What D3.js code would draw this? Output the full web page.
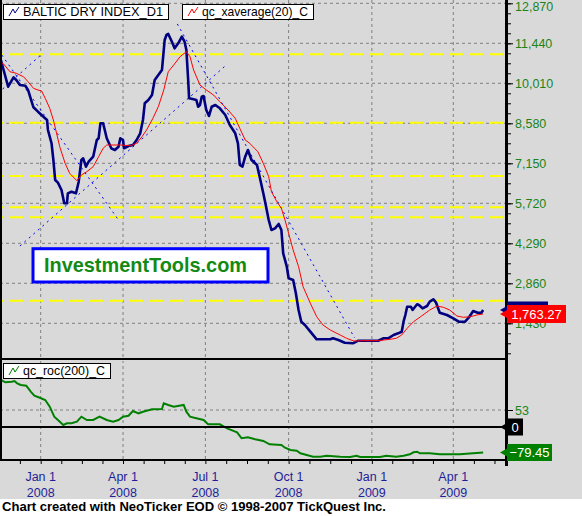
<!DOCTYPE html>
<html><head><meta charset="utf-8">
<script src="https://cdn.jsdelivr.net/npm/d3@7"></script>
<style>
body{margin:0;background:#fff}
svg{display:block;font-family:"Liberation Sans",Arial,sans-serif}
</style>
</head><body>
<svg id="c" width="582" height="516"></svg>
<script>
// ---------------- DATA ----------------
const bdiDates = ["2007-11-18","2007-11-21","2007-11-26","2007-12-02","2007-12-05","2007-12-09","2007-12-15","2007-12-18","2007-12-22","2007-12-24","2007-12-29",
"2008-01-04","2008-01-08","2008-01-09","2008-01-13","2008-01-15","2008-01-17","2008-01-20","2008-01-24","2008-01-27","2008-01-30","2008-01-31",
"2008-02-04","2008-02-09","2008-02-12","2008-02-15","2008-02-17","2008-02-20","2008-02-23","2008-02-28",
"2008-03-03","2008-03-05","2008-03-07","2008-03-10","2008-03-14","2008-03-19","2008-03-23","2008-03-27","2008-03-29",
"2008-04-01","2008-04-02","2008-04-07","2008-04-12","2008-04-16","2008-04-20","2008-04-23","2008-04-25","2008-04-29",
"2008-05-03","2008-05-06","2008-05-10","2008-05-14","2008-05-16","2008-05-17","2008-05-19","2008-05-21","2008-05-25","2008-05-28",
"2008-06-01","2008-06-05","2008-06-08","2008-06-10","2008-06-12","2008-06-13","2008-06-18","2008-06-21","2008-06-23","2008-06-25","2008-06-27","2008-06-29",
"2008-07-02","2008-07-05","2008-07-08","2008-07-12","2008-07-17","2008-07-23","2008-07-28",
"2008-08-03","2008-08-06","2008-08-08","2008-08-11","2008-08-14","2008-08-17","2008-08-21","2008-08-27","2008-08-30",
"2008-09-03","2008-09-05","2008-09-09","2008-09-12","2008-09-16","2008-09-20","2008-09-23","2008-09-25","2008-09-29",
"2008-10-01","2008-10-06","2008-10-09","2008-10-12","2008-10-15","2008-10-19","2008-10-25",
"2008-11-01","2008-11-16","2008-11-19","2008-11-25","2008-12-02","2008-12-11","2008-12-17","2008-12-23",
"2009-01-08","2009-01-14","2009-01-19","2009-01-25","2009-01-30",
"2009-02-03","2009-02-05","2009-02-07","2009-02-09","2009-02-13","2009-02-15","2009-02-20","2009-02-22","2009-02-26",
"2009-03-03","2009-03-06","2009-03-10","2009-03-13","2009-03-17","2009-03-25",
"2009-04-01","2009-04-07","2009-04-14","2009-04-18","2009-04-23","2009-04-28","2009-05-02","2009-05-04"];
const bdiValues = [10843,10485,9888,10224,10128,9949,9924,9771,9352,9152,8995,
8816,8698,8341,7865,7268,6553,6457,6196,5720,5720,6077,
6135,6077,6492,7268,7329,7029,7207,7386,
7983,8044,8580,8580,8044,7686,7626,7744,8044,
7983,7686,7769,7804,7983,8223,8698,9295,9413,
9592,10128,10307,10485,11200,11558,11737,11773,11497,11261,
11440,11676,11497,11200,10128,9474,9438,9413,9173,9234,9531,9556,
9056,8841,9173,9234,9116,8877,8519,
8223,7865,7089,7029,7386,7626,7268,7089,6671,
6077,5777,5123,4766,4826,4980,4766,3932,3454,
3039,2978,2503,1906,1487,1369,1130,
858,858,894,833,737,715,808,808,
808,894,894,1012,1072,
1130,1487,1727,2024,2024,1906,2109,2084,1966,
2049,2203,2288,2167,1809,1727,
1609,1487,1487,1630,1870,1809,1809,1906];

const emaDates = ["2007-11-18","2007-11-21","2007-11-28","2007-12-05","2007-12-13","2007-12-18","2007-12-24","2007-12-29",
"2008-01-02","2008-01-06","2008-01-11","2008-01-15","2008-01-19","2008-01-22","2008-01-28",
"2008-02-02","2008-02-10","2008-02-15","2008-02-21","2008-02-28",
"2008-03-05","2008-03-10","2008-03-14","2008-03-29","2008-04-09","2008-04-16","2008-04-22","2008-04-27",
"2008-05-04","2008-05-10","2008-05-16","2008-05-21","2008-05-27","2008-06-03","2008-06-10","2008-06-14","2008-06-18","2008-06-25",
"2008-07-02","2008-07-10","2008-07-17","2008-07-26","2008-08-03","2008-08-08","2008-08-14","2008-08-19","2008-08-28",
"2008-09-03","2008-09-09","2008-09-12","2008-09-18","2008-09-23","2008-09-27",
"2008-10-01","2008-10-06","2008-10-12","2008-10-17","2008-10-25","2008-11-01","2008-11-08","2008-11-16","2008-11-27",
"2008-12-04","2008-12-12","2008-12-23","2009-01-08","2009-01-21","2009-01-28",
"2009-02-03","2009-02-09","2009-02-16","2009-02-25","2009-03-06","2009-03-14","2009-03-21","2009-03-28",
"2009-04-05","2009-04-12","2009-04-20","2009-04-27","2009-05-04"];
const emaValues = [10725,10700,10425,10368,10246,10067,9831,9771,
9735,9474,9116,8698,8162,7744,7150,
6792,6528,6732,6850,7029,
7386,7686,7804,7804,7779,7865,8101,8341,
8759,9174,9771,10425,10664,10961,11140,10961,10485,9949,
9771,9592,9352,9056,8759,8401,7983,7865,7565,
7150,6671,6135,5777,5541,5123,
4648,4050,3454,2738,2145,1666,1369,1191,1012,
894,797,808,808,858,894,
1012,1251,1487,1691,1906,2049,2002,1906,
1691,1645,1666,1727,1763.27];

const rocDates = ["2007-11-18","2007-11-23","2007-11-30","2007-12-03","2007-12-06","2007-12-10","2007-12-16","2007-12-21","2007-12-25","2007-12-31",
"2008-01-06","2008-01-11","2008-01-16","2008-01-20","2008-01-26","2008-01-30",
"2008-02-04","2008-02-10","2008-02-15","2008-02-21","2008-02-28",
"2008-03-06","2008-03-14","2008-03-21","2008-03-27",
"2008-04-01","2008-04-07","2008-04-12","2008-04-18","2008-04-23",
"2008-05-03","2008-05-14","2008-05-16","2008-05-21","2008-05-27",
"2008-06-07","2008-06-10","2008-06-14","2008-06-21","2008-06-29",
"2008-07-04","2008-07-17","2008-07-25","2008-08-05","2008-08-10","2008-08-17","2008-08-25",
"2008-09-03","2008-09-10","2008-09-23","2008-09-27",
"2008-10-03","2008-10-10","2008-10-14","2008-10-21","2008-10-28",
"2008-11-05","2008-11-12","2008-11-27","2008-12-08","2008-12-15","2008-12-19",
"2009-01-10","2009-01-17","2009-01-28","2009-02-05","2009-02-12","2009-02-16","2009-02-20","2009-02-23",
"2009-03-06","2009-03-17","2009-04-08","2009-04-23","2009-05-04"];
const rocValues = [146.5,139.4,141.2,143.4,136.2,130.9,128.8,110.0,97.6,91.3,
84.2,63.3,32.1,21.8,6.2,11.5,
11.5,16.5,32.1,21.8,21.8,
32.1,21.8,16.5,21.8,
32.1,35.2,49.9,42.7,47.7,
55.2,56.1,73.9,68.6,63.3,
68.6,47.7,32.1,27.1,21.8,
8.4,8.4,-4.1,-16.5,-35.2,-32.1,-38.3,
-43.6,-53.9,-56.1,-64.5,
-71.7,-73.9,-82.0,-87.3,-92.6,
-92.6,-89.5,-92.6,-93.5,-89.5,-93.5,
-93.5,-89.5,-92.6,-89.5,-85.1,-78.9,-77.0,-82.0,
-82.0,-85.1,-85.1,-82.0,-79.45];

// hand-drawn trend lines (date, value endpoints)
const trendLines = [
  [["2007-11-19",11022],["2008-03-27",5123]],
  [["2007-12-09",4193],["2008-07-25",10689]],
  [["2007-11-20",9806],["2008-01-02",11047]],
  [["2008-05-31",12130],["2008-12-13",904]]
];
const fibLevels = [11047,8602,6696,5577,5220,2238];

const priceTicks = [1430,2860,4290,5720,7150,8580,10010,11440,12870];
const rocTicks = [53];
const xTickDates = ["2008-01-01","2008-04-01","2008-07-01","2008-10-01","2009-01-01","2009-04-01"];
const xTickLabels = [["Jan 1","2008"],["Apr 1","2008"],["Jul 1","2008"],["Oct 1","2008"],["Jan 1","2009"],["Apr 1","2009"]];
const lastBdi = 1906, lastEma = 1763.27, lastRoc = -79.45;

// ---------------- LAYOUT ----------------
const parse = d3.utcParse("%Y-%m-%d");
const svg = d3.select("#c");
const W = 582, H = 516;
const axisX = 507;
const mainTop = 0, mainBot = 357, lowTop = 360, lowBot = 460;

const x = d3.scaleUtc().domain([parse("2008-01-01"), parse("2009-04-01")]).range([40.7, 453.3]);
const y = d3.scaleLinear().domain([1430, 12870]).range([323.3, 3.3]);
const yr = d3.scaleLinear().domain([0, 53]).range([427, 410]);

const BG = "#d9d9d9";
svg.append("rect").attr("width", W).attr("height", 499).attr("fill", BG);
svg.append("rect").attr("y", 499).attr("width", W).attr("height", H - 499).attr("fill", "#fff");

const defs = svg.append("defs");
defs.append("clipPath").attr("id", "cm").append("rect").attr("x", 0).attr("y", 0).attr("width", axisX - 1).attr("height", mainBot);
defs.append("clipPath").attr("id", "cl").append("rect").attr("x", 0).attr("y", lowTop + 1).attr("width", axisX - 1).attr("height", lowBot - lowTop - 2);

const gridCol = "#808080";
// grids main
const gm = svg.append("g").attr("clip-path", "url(#cm)");
priceTicks.forEach(v => gm.append("line").attr("x1", 0).attr("x2", axisX).attr("y1", y(v)).attr("y2", y(v))
  .attr("stroke", gridCol).attr("stroke-dasharray", "3,3"));
xTickDates.forEach(d => gm.append("line").attr("x1", x(parse(d))).attr("x2", x(parse(d))).attr("y1", 0).attr("y2", mainBot)
  .attr("stroke", gridCol).attr("stroke-dasharray", "3,3"));
// fib lines
fibLevels.forEach(v => gm.append("line").attr("x1", 0).attr("x2", axisX).attr("y1", y(v)).attr("y2", y(v))
  .attr("stroke", "#ffff00").attr("stroke-width", 2).attr("stroke-dasharray", "13,7").attr("stroke-dashoffset", 10));
// trend lines
trendLines.forEach(t => gm.append("line")
  .attr("x1", x(parse(t[0][0]))).attr("y1", y(t[0][1]))
  .attr("x2", x(parse(t[1][0]))).attr("y2", y(t[1][1]))
  .attr("stroke", "#0000ff").attr("stroke-width", 1).attr("stroke-dasharray", "2,4"));

const bdi = bdiDates.map((d, i) => [parse(d), bdiValues[i]]);
const ema = emaDates.map((d, i) => [parse(d), emaValues[i]]);
const roc = rocDates.map((d, i) => [parse(d), rocValues[i]]);

const lineM = d3.line().x(d => x(d[0])).y(d => y(d[1]));
gm.append("path").attr("d", lineM(bdi)).attr("fill", "none").attr("stroke", "#000080").attr("stroke-width", 2.6).attr("stroke-linejoin", "round");
gm.append("path").attr("d", lineM(ema)).attr("fill", "none").attr("stroke", "#ff0000").attr("stroke-width", 1);

// lower grid
const gl = svg.append("g").attr("clip-path", "url(#cl)");
xTickDates.forEach(d => gl.append("line").attr("x1", x(parse(d))).attr("x2", x(parse(d))).attr("y1", lowTop).attr("y2", lowBot)
  .attr("stroke", gridCol).attr("stroke-dasharray", "3,3"));
rocTicks.forEach(v => gl.append("line").attr("x1", 0).attr("x2", axisX).attr("y1", yr(v)).attr("y2", yr(v))
  .attr("stroke", gridCol).attr("stroke-dasharray", "3,3"));
const lineR = d3.line().x(d => x(d[0])).y(d => yr(d[1]));
gl.append("path").attr("d", lineR(roc)).attr("fill", "none").attr("stroke", "#008000").attr("stroke-width", 2);

// frame lines
svg.append("line").attr("x1", 0).attr("x2", axisX).attr("y1", lowTop - 1).attr("y2", lowTop - 1).attr("stroke", "#000").attr("stroke-width", 2);
svg.append("line").attr("x1", 0).attr("x2", axisX).attr("y1", yr(0)).attr("y2", yr(0)).attr("stroke", "#000").attr("stroke-width", 2);
svg.append("line").attr("x1", 0).attr("x2", axisX).attr("y1", lowBot).attr("y2", lowBot).attr("stroke", "#000").attr("stroke-width", 2);
svg.append("line").attr("x1", 1).attr("x2", 1).attr("y1", 0).attr("y2", lowBot).attr("stroke", "#000").attr("stroke-width", 2);
svg.append("line").attr("x1", axisX - 0.5).attr("x2", axisX - 0.5).attr("y1", 0).attr("y2", 466).attr("stroke", "#000").attr("stroke-width", 3);

// right price axis
const labelCol = "#1a841a";
const ax = svg.append("g").attr("transform", `translate(${axisX},0)`)
  .call(d3.axisRight(y).tickValues(priceTicks).tickSize(6).tickPadding(2).tickFormat(d3.format(",")));
ax.select(".domain").remove();
ax.selectAll("line").attr("stroke", "#000");
ax.selectAll("text").attr("fill", labelCol).attr("font-size", "12.5px").attr("font-family", "Liberation Sans, Arial, sans-serif");
ax.selectAll(".tick").filter(d => d === 12870).select("text").attr("dy", "0.6em");
const minorP = [];
for (let v = 12870; v > 300; v -= 357.5) minorP.push(v);
const axm = svg.append("g").attr("transform", `translate(${axisX},0)`)
  .call(d3.axisRight(y).tickValues(minorP).tickSize(4).tickFormat(""));
axm.select(".domain").remove();
axm.selectAll("line").attr("stroke", "#000");

// lower axis
const ar = svg.append("g").attr("transform", `translate(${axisX},0)`)
  .call(d3.axisRight(yr).tickValues(rocTicks).tickSize(6).tickPadding(2));
ar.select(".domain").remove();
ar.selectAll("line").attr("stroke", "#000");
ar.selectAll("text").attr("fill", labelCol).attr("font-size", "12.5px").attr("font-family", "Liberation Sans, Arial, sans-serif");

// x axis
const minorX = [];
const qs = ["2007-10-01", ...xTickDates, "2009-07-01"].map(parse);
for (let i = 0; i < qs.length - 1; i++) {
  const a = x(qs[i]), b = x(qs[i + 1]);
  for (let k = 0; k < 4; k++) { const p = a + (b - a) * k / 4; if (p >= 0 && p <= axisX) minorX.push(x.invert(p)); }
}
const axb = svg.append("g").attr("transform", `translate(0,${lowBot})`)
  .call(d3.axisBottom(x).tickValues(minorX).tickSize(4).tickFormat(""));
axb.select(".domain").remove();
axb.selectAll("line").attr("stroke", "#000");
const xl = svg.append("g");
xTickDates.forEach((d, i) => {
  const t = xl.append("text").attr("x", x(parse(d))).attr("text-anchor", "middle").attr("fill", "#1f1f9a").attr("font-size", "12.5px");
  t.append("tspan").attr("x", x(parse(d))).attr("y", 481).text(xTickLabels[i][0]);
  t.append("tspan").attr("x", x(parse(d))).attr("y", 497).text(xTickLabels[i][1]);
});

// value tags
function tag(yc, w, fill, txt, h) {
  h = h || 17;
  svg.append("path").attr("d", `M${axisX - 7},${yc} L${axisX},${yc - 4} L${axisX},${yc + 4} Z`).attr("fill", fill);
  svg.append("rect").attr("x", axisX).attr("y", yc - h / 2).attr("width", w).attr("height", h).attr("fill", fill);
  if (txt) svg.append("text").attr("x", axisX + w / 2).attr("y", yc + 5).attr("text-anchor", "middle")
    .attr("fill", "#fff").attr("font-size", "13px").text(txt);
}
tag(y(lastBdi), 41, "#000080", "");
tag(y(lastEma), 59, "#ff0000", d3.format(",.2f")(lastEma), 18);
tag(yr(0), 16, "#000000", "0");
tag(yr(lastRoc), 45, "#008000", d3.format(".2f")(lastRoc));

// legends
function legend(x0, y0, col, txt, tl) {
  const g = svg.append("g");
  const r = g.append("rect").attr("x", x0 + 0.5).attr("y", y0 + 0.5).attr("height", 15).attr("fill", "#fff").attr("stroke", "#000");
  g.append("path").attr("d", `M${x0 + 6},${y0 + 12} L${x0 + 10},${y0 + 5} L${x0 + 12},${y0 + 9} L${x0 + 16},${y0 + 3}`)
    .attr("fill", "none").attr("stroke", col).attr("stroke-width", 1);
  const t = g.append("text").attr("x", x0 + 20).attr("y", y0 + 11.5).attr("font-size", "13px").attr("fill", "#000").text(txt);
  if (tl) t.attr("textLength", tl).attr("lengthAdjust", "spacingAndGlyphs");
  r.attr("width", 20 + t.node().getComputedTextLength() + 5);
}
legend(3, 4, "#000080", "BALTIC DRY INDEX_D1", 140);
legend(182, 4, "#ff0000", "qc_xaverage(20)_C", 106);
legend(3, 363, "#008000", "qc_roc(200)_C", 82);

// watermark box
svg.append("rect").attr("x", 33).attr("y", 248.7).attr("width", 235).attr("height", 33.3)
  .attr("fill", "#fff").attr("stroke", "#0000ff").attr("stroke-width", 3);
svg.append("text").attr("x", 44).attr("y", 272).attr("font-size", "21px").attr("font-weight", "bold")
  .attr("fill", "#138a13").attr("textLength", 203).attr("lengthAdjust", "spacingAndGlyphs").text("InvestmentTools.com");

// footer
svg.append("text").attr("x", 2).attr("y", 511).attr("font-size", "13px").attr("font-weight", "bold").attr("fill", "#000")
  .attr("textLength", 384).attr("lengthAdjust", "spacingAndGlyphs")
  .text("Chart created with NeoTicker EOD \u00a9 1998-2007 TickQuest Inc.");
</script>
</body></html>
